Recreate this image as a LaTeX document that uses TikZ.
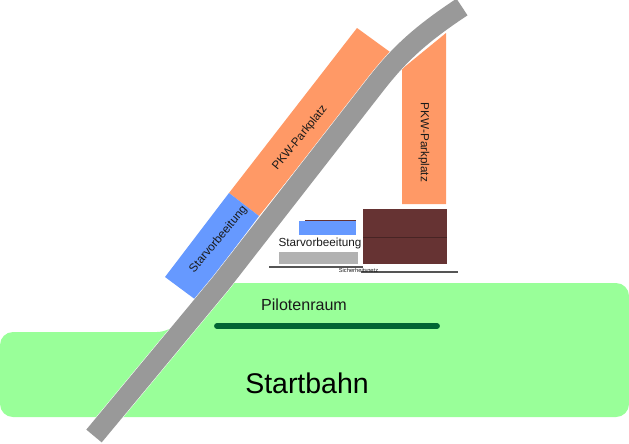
\documentclass[tikz,border=0pt]{standalone}
\usepackage{fontspec}
\setmainfont{Liberation Sans}
\definecolor{wiese}{HTML}{99FF99}
\definecolor{piste}{HTML}{999999}
\definecolor{parkplatz}{HTML}{FF9966}
\definecolor{vorbereitung}{HTML}{6699FF}
\definecolor{halle}{HTML}{663333}
\definecolor{netz}{HTML}{555555}
\definecolor{raum}{HTML}{006633}
\definecolor{schrift}{HTML}{1A1A1A}

\begin{document}
\begin{tikzpicture}[x=0.03cm, y=-0.03cm,
	label/.style={text=schrift, font=\fontsize{10}{12}\selectfont, inner sep=0pt},
	netzline/.style={netz, line width=1pt}]
	\useasboundingbox (0,0) rectangle (629,443);

	\fill[wiese, rounded corners=0.39cm] (216,283) -- (629,283) -- (629,417) -- (0,417)
		-- (0,332) -- (170,332) -- cycle;

	\fill[parkplatz] (229,193) -- (357,28) -- (390,52) -- (259,216) -- cycle;
	\fill[parkplatz] (402,69) -- (446,33) -- (446,204) -- (402,204) -- cycle;
	\fill[vorbereitung] (165,277) -- (229,193) -- (259,216) -- (196,300) -- cycle;

	\fill[vorbereitung] (299,221) rectangle (356,235);
	\draw[halle, line width=0.8pt] (305,220) -- (356,220);
	\fill[piste!75] (279,252) rectangle (358,264);
	\fill[halle] (363,209) rectangle (447,264);
	\draw[halle!70!black, line width=0.8pt] (363,237) -- (447,237);

	\coordinate (netza) at (269,267);
	\coordinate (netzb) at (363,267);
	\coordinate (netzc) at (361,272);
	\coordinate (netzd) at (458,272);
	\draw[netzline] (netza) -- (netzb);
	\draw[netzline] (netzc) -- (netzd);

	\draw[white, double=piste, line width=0.4pt, double distance=0.6cm] (94,436) -- (221,283) -- (376,84)
		.. controls (398,56) and (418,36) .. (462,7);

	\coordinate (raumw) at (217,326);
	\coordinate (raumo) at (437,326);
	\draw[raum, line width=5pt, line cap=round] (raumw) -- (raumo);

	\node[label, rotate=51]  (park1)  at (300,138) {PKW-Parkplatz};
	\node[label, rotate=-90] (park2)  at (424,142.5) {PKW-Parkplatz};
	\node[label, rotate=50]  (vorb1)  at (218.5,239.5) {Starvorbeeitung};
	\node[label]             (vorb2)  at (320,243.5) {Starvorbeeitung};
	\node[label, font=\fontsize{4.9}{6}\selectfont] (netzl) at (358.5,270.5) {Sicherheitsnetz};
	\node[label, font=\fontsize{13.7}{16}\selectfont] (raumlbl) at (304,305) {Pilotenraum};
	\node[label, font=\fontsize{24.3}{28}\selectfont, text=black] (bahn) at (307,383) {Startbahn};
\end{tikzpicture}
\end{document}
